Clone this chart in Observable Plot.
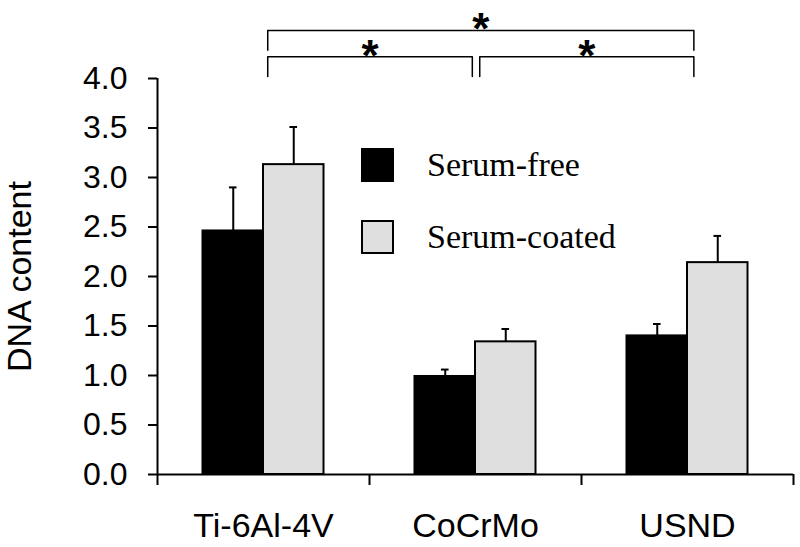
<!DOCTYPE html>
<html><head><meta charset="utf-8">
<script src="https://cdn.jsdelivr.net/npm/d3@7"></script>
<script src="https://cdn.jsdelivr.net/npm/@observablehq/plot@0.6"></script>
<style>
body{margin:0;background:#fff;}
#wrap{position:relative;width:800px;height:547px;overflow:hidden;}
.legend{position:absolute;left:361px;top:148px;font-family:"Liberation Serif","Times New Roman",serif;font-size:34px;color:#000;}
.item{display:flex;align-items:center;height:34px;margin-bottom:38px;}
.sw{width:29px;height:30px;border:2px solid #000;margin-right:33px;box-sizing:content-box;}
</style></head><body><div id="wrap"></div>
<script>
const categories = ["Ti-6Al-4V", "CoCrMo", "USND"];
const series = ["Serum-free", "Serum-coated"];
const seriesColors = ["#000000", "#dfdfdf"];
const serumFree = [2.46, 0.99, 1.40];
const serumFreeErr = [0.44, 0.07, 0.12];
const serumCoated = [3.13, 1.34, 2.14];
const serumCoatedErr = [0.38, 0.13, 0.27];
const yTicks = [0, 0.5, 1, 1.5, 2, 2.5, 3, 3.5, 4];
const comparisons = [
  {a: 0, b: 2, label: "*"},
  {a: 0, b: 1, label: "*"},
  {a: 1, b: 2, label: "*"}
];

const W = 0.2854;      // bar width in category units
const CAP = 0.018;     // half cap width
const rows = categories.flatMap((c, i) => series.map((s, k) => ({
  i, c, s, k,
  value: k ? serumCoated[i] : serumFree[i],
  err: k ? serumCoatedErr[i] : serumFreeErr[i]
})));
const ctr = d => d.i + (d.k - 0.5) * W;

// bracket geometry (layout, in scale units)
const levelOf = c => (c.b - c.a) > 1 ? 4.485 : 4.22;
const legLen = 0.2;
const endA = c => c.a + 0.02;
const endB = c => c.b + 0.03 - (comparisons.some(o => o !== c && o.a === c.b && levelOf(o) === levelOf(c)) ? 0.045 : 0);
const bracketPts = comparisons.flatMap((c, id) => {
  const L = levelOf(c);
  return [
    {id, x: endA(c), y: L - legLen},
    {id, x: endA(c), y: L},
    {id, x: endB(c), y: L},
    {id, x: endB(c), y: L - legLen}
  ];
});

const chart = Plot.plot({
  width: 800,
  height: 547,
  marginTop: 78,
  marginRight: 7,
  marginBottom: 73,
  marginLeft: 157,
  style: {fontFamily: "'Liberation Sans', Arial, sans-serif", fontSize: "32px", background: "#fff", overflow: "visible", color: "#000"},
  x: {domain: [-0.5, 2.5]},
  y: {domain: [0, 4]},
  color: {domain: series, range: seriesColors},
  marks: [
    Plot.ruleX(rows, {x: ctr, y1: "value", y2: d => d.value + d.err, stroke: "#000", strokeWidth: 2}),
    Plot.ruleY(rows, {y: d => d.value + d.err, x1: d => ctr(d) - CAP, x2: d => ctr(d) + CAP, stroke: "#000", strokeWidth: 2}),
    Plot.rectY(rows, {x1: d => d.i + (d.k - 1) * W, x2: d => d.i + d.k * W, y1: 0, y2: "value", fill: "s", stroke: "#000", strokeWidth: 2}),
    Plot.ruleX([-0.5], {y1: 0, y2: 4, stroke: "#000", strokeWidth: 2}),
    Plot.ruleY([0], {x1: -0.5, x2: 2.5, stroke: "#000", strokeWidth: 2}),
    Plot.axisY(yTicks, {tickSize: 9, tickPadding: 21, tickFormat: d3.format(".1f"), fontSize: 32, strokeWidth: 2, label: null}),
    Plot.axisX([-0.5, 0.5, 1.5, 2.5], {tickSize: 11, tickFormat: () => "", strokeWidth: 2, label: null}),
    Plot.axisX([0, 1, 2], {tickSize: 0, tickPadding: 38, tickFormat: i => categories[i], fontSize: 34, label: null}),
    Plot.text(["DNA content"], {frameAnchor: "left", rotate: -90, dx: -137, textAnchor: "middle", lineAnchor: "middle", fontSize: 34}),
    Plot.line(bracketPts, {x: "x", y: "y", z: "id", stroke: "#000", strokeWidth: 1.5}),
    Plot.text(comparisons, {x: c => (endA(c) + endB(c)) / 2, y: levelOf, text: "label", lineAnchor: "bottom", dy: 14, fontSize: 44, fontWeight: "bold"})
  ]
});

const wrap = document.getElementById("wrap");
wrap.appendChild(chart);
const leg = document.createElement("div");
leg.className = "legend";
series.forEach((s, k) => {
  const it = document.createElement("div");
  it.className = "item";
  const sw = document.createElement("div");
  sw.className = "sw";
  sw.style.background = seriesColors[k];
  const t = document.createElement("span");
  t.textContent = s;
  it.appendChild(sw); it.appendChild(t);
  leg.appendChild(it);
});
wrap.appendChild(leg);
</script></body></html>
